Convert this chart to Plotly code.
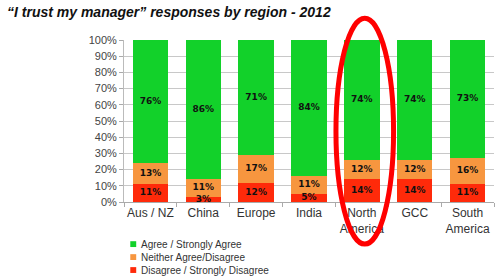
import plotly.graph_objects as go

regions = ["Aus / NZ", "China", "Europe", "India", "North<br>America", "GCC", "South<br>America"]
agree = [76, 86, 71, 84, 74, 74, 73]
neither = [13, 11, 17, 11, 12, 12, 16]
disagree = [11, 3, 12, 5, 14, 14, 11]
yticks = [0, 10, 20, 30, 40, 50, 60, 70, 80, 90, 100]
highlight = "North<br>America"

series = [
    ("Disagree / Strongly Disagree", disagree, "#FF2A0A"),
    ("Neither Agree/Disagree", neither, "#F7963F"),
    ("Agree / Strongly Agree", agree, "#12D12A"),
]

fig = go.Figure()
base = [0] * len(regions)
for name, vals, col in series:
    fig.add_trace(go.Bar(
        name=name, x=regions, y=vals, marker=dict(color=col, line=dict(width=0)),
        showlegend=False, hoverinfo="skip",
    ))
    mids = [b + v / 2 for b, v in zip(base, vals)]
    fig.add_trace(go.Scatter(
        x=regions, y=mids, mode="text", text=[f"{v}%" for v in vals],
        textposition="middle center", showlegend=False, hoverinfo="skip",
        textfont=dict(family="DejaVu Sans", size=9, color="#111111", weight="bold"),
    ))
    base = [b + v for b, v in zip(base, vals)]

# manual compact legend (top to bottom: agree, neither, disagree)
for i, (name, vals, col) in enumerate(reversed(series)):
    yp = -0.26 - i * 0.08
    fig.add_shape(type="rect", xref="paper", yref="paper",
                  x0=0.017, x1=0.033, y0=yp - 0.018, y1=yp + 0.018,
                  fillcolor=col, line=dict(width=0))
    fig.add_annotation(text=name, xref="paper", yref="paper", x=0.04, y=yp,
                       xanchor="left", yanchor="middle", showarrow=False,
                       font=dict(family="Liberation Sans", size=10, color="#333333"))

hi = regions.index(highlight)
fig.add_shape(type="circle", xref="x", yref="paper",
              x0=hi - 0.49, x1=hi + 0.6, y0=-0.26, y1=1.135,
              line=dict(color="#FF0000", width=5), layer="above")

fig.update_layout(
    barmode="stack", bargap=0.33,
    width=500, height=280,
    margin=dict(l=124, r=6, t=40, b=78, autoexpand=False),
    paper_bgcolor="white", plot_bgcolor="white",
    showlegend=False,
    title=dict(text="<b><i>\u201cI trust my manager\u201d responses by region - 2012</i></b>",
               x=0.014, xanchor="left", y=0.975, yanchor="top",
               font=dict(family="Liberation Sans", size=14, color="#111111")),
    xaxis=dict(tickfont=dict(family="Liberation Sans", size=12, color="#333333"),
               tickangle=0, automargin=False,
               showline=True, linecolor="#AAAAAA", ticks="outside", tickson="boundaries",
               ticklen=4, tickcolor="#AAAAAA", showgrid=False),
    yaxis=dict(range=[0, 100], tickvals=yticks, ticktext=[f"{v}%" for v in yticks],
               tickfont=dict(family="Liberation Sans", size=11, color="#444444"),
               automargin=False,
               showgrid=True, gridcolor="#C8C8C8", gridwidth=1,
               showline=True, linecolor="#BBBBBB", ticks="outside", ticklen=4,
               tickcolor="#AAAAAA", zeroline=False),
)

fig.write_html("out.html")
